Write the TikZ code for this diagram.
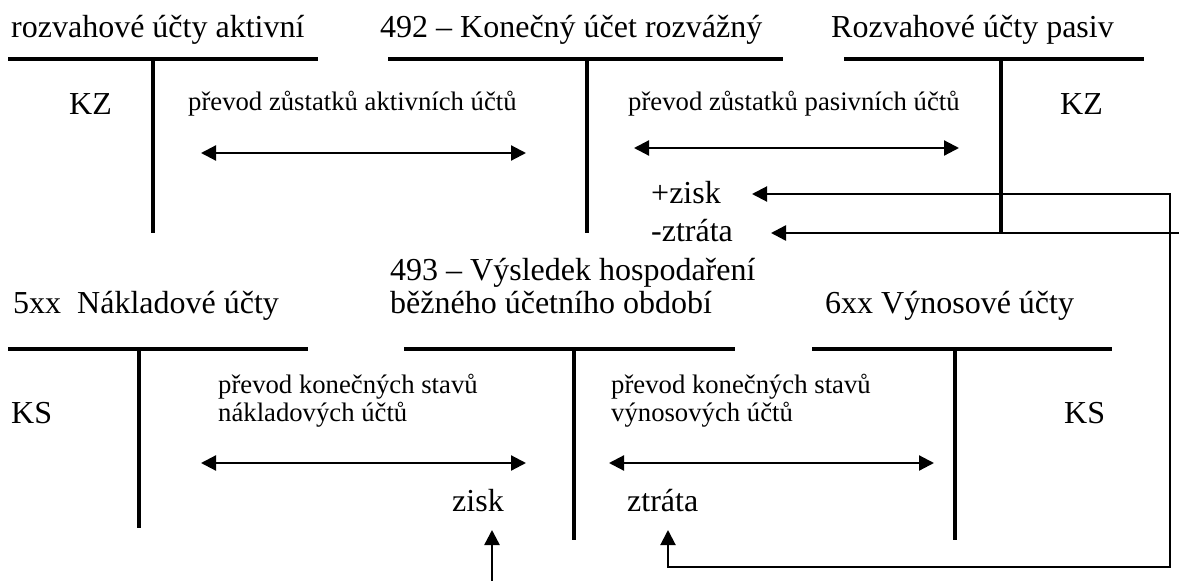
\documentclass[tikz,border=0pt]{standalone}
\usepackage{fontspec}
\setmainfont{Liberation Serif}
\usetikzlibrary{arrows.meta}
\begin{document}
\begin{tikzpicture}[x=1pt,y=-1pt,
  big/.style={inner sep=0pt, anchor=base west, font=\fontsize{32}{36}\selectfont},
  small/.style={inner sep=0pt, anchor=base west, font=\fontsize{26.7}{28}\selectfont},
  tline/.style={line width=4pt},
  tri/.tip={Triangle[length=15pt,width=15pt]},
  dblarrow/.style={line width=2.2pt, tri-tri},
  conn/.style={line width=2pt},
  oneway/.style={line width=2.5pt, -tri}]
\useasboundingbox (0,0) rectangle (1179,581);

% ---------- top row titles ----------
\node[big] (t1) at (11,37) {rozvahové účty aktivní};
\node[big] (t2) at (380,37) {492 – Konečný účet rozvážný};
\node[big] (t3) at (831,37) {Rozvahové účty pasiv};

% ---------- top T-accounts ----------
\draw[tline] (8,59) -- (318,59);
\draw[tline] (153,59) -- (153,233);
\draw[tline] (388,59) -- (783,59);
\draw[tline] (587,59) -- (587,233);
\draw[tline] (844,59) -- (1144,59);
\draw[tline] (1001,59) -- (1001,233);

\node[big] (kz1) at (69,114) {KZ};
\node[big] (kz2) at (1060,114) {KZ};
\node[small] (p1) at (188,110) {převod zůstatků aktivních účtů};
\node[small] (p2) at (628,110) {převod zůstatků pasivních účtů};

\coordinate (a1l) at (201,153);
\coordinate (a1r) at (526,153);
\draw[dblarrow] (a1l) -- (a1r);
\coordinate (a2l) at (634,148);
\coordinate (a2r) at (959,148);
\draw[dblarrow] (a2l) -- (a2r);

\node[big] (pzisk) at (651,203) {+zisk};
\node[big] (mztrata) at (651,241) {-ztráta};

% ---------- bottom row titles ----------
\node[big] (t4) at (13,313) {5xx\ \ Nákladové účty};
\node[big] (t5a) at (390,280) {493 – Výsledek hospodaření};
\node[big] (t5b) at (390,313) {běžného účetního období};
\node[big] (t6) at (825,313) {6xx Výnosové účty};

% ---------- bottom T-accounts ----------
\draw[tline] (8,349) -- (308,349);
\draw[tline] (139,349) -- (139,528);
\draw[tline] (404,349) -- (735,349);
\draw[tline] (574,349) -- (574,540);
\draw[tline] (812,349) -- (1112,349);
\draw[tline] (955,349) -- (955,540);

\node[big] (ks1) at (11,423) {KS};
\node[big] (ks2) at (1064,423) {KS};
\node[small] (p3a) at (218,393) {převod konečných stavů};
\node[small] (p3b) at (218,421) {nákladových účtů};
\node[small] (p4a) at (611,393) {převod konečných stavů};
\node[small] (p4b) at (611,421) {výnosových účtů};

\coordinate (a3l) at (201,463);
\coordinate (a3r) at (526,463);
\draw[dblarrow] (a3l) -- (a3r);
\coordinate (a4l) at (609,463);
\coordinate (a4r) at (934,463);
\draw[dblarrow] (a4l) -- (a4r);

\node[big] (zisk) at (452,511) {zisk};
\node[big] (ztrata) at (627,511) {ztráta};

% ---------- connectors ----------
\coordinate (pziskTip) at (752,194);
\coordinate (cTop) at (1170,194);
\coordinate (cBot) at (1170,567);
\coordinate (cLeft) at (668,567);
\coordinate (ztrataTip) at (668,530);
\draw[conn, tri-tri] (pziskTip) -- (cTop) -- (cBot) -- (cLeft) -- (ztrataTip);

\coordinate (mztrataTip) at (771,233);
\coordinate (mztrataSrc) at (1179,233);
\draw[oneway] (mztrataSrc) -- (mztrataTip);

\coordinate (ziskSrc) at (492,581);
\coordinate (ziskTip) at (492,530);
\draw[oneway] (ziskSrc) -- (ziskTip);
\end{tikzpicture}
\end{document}
